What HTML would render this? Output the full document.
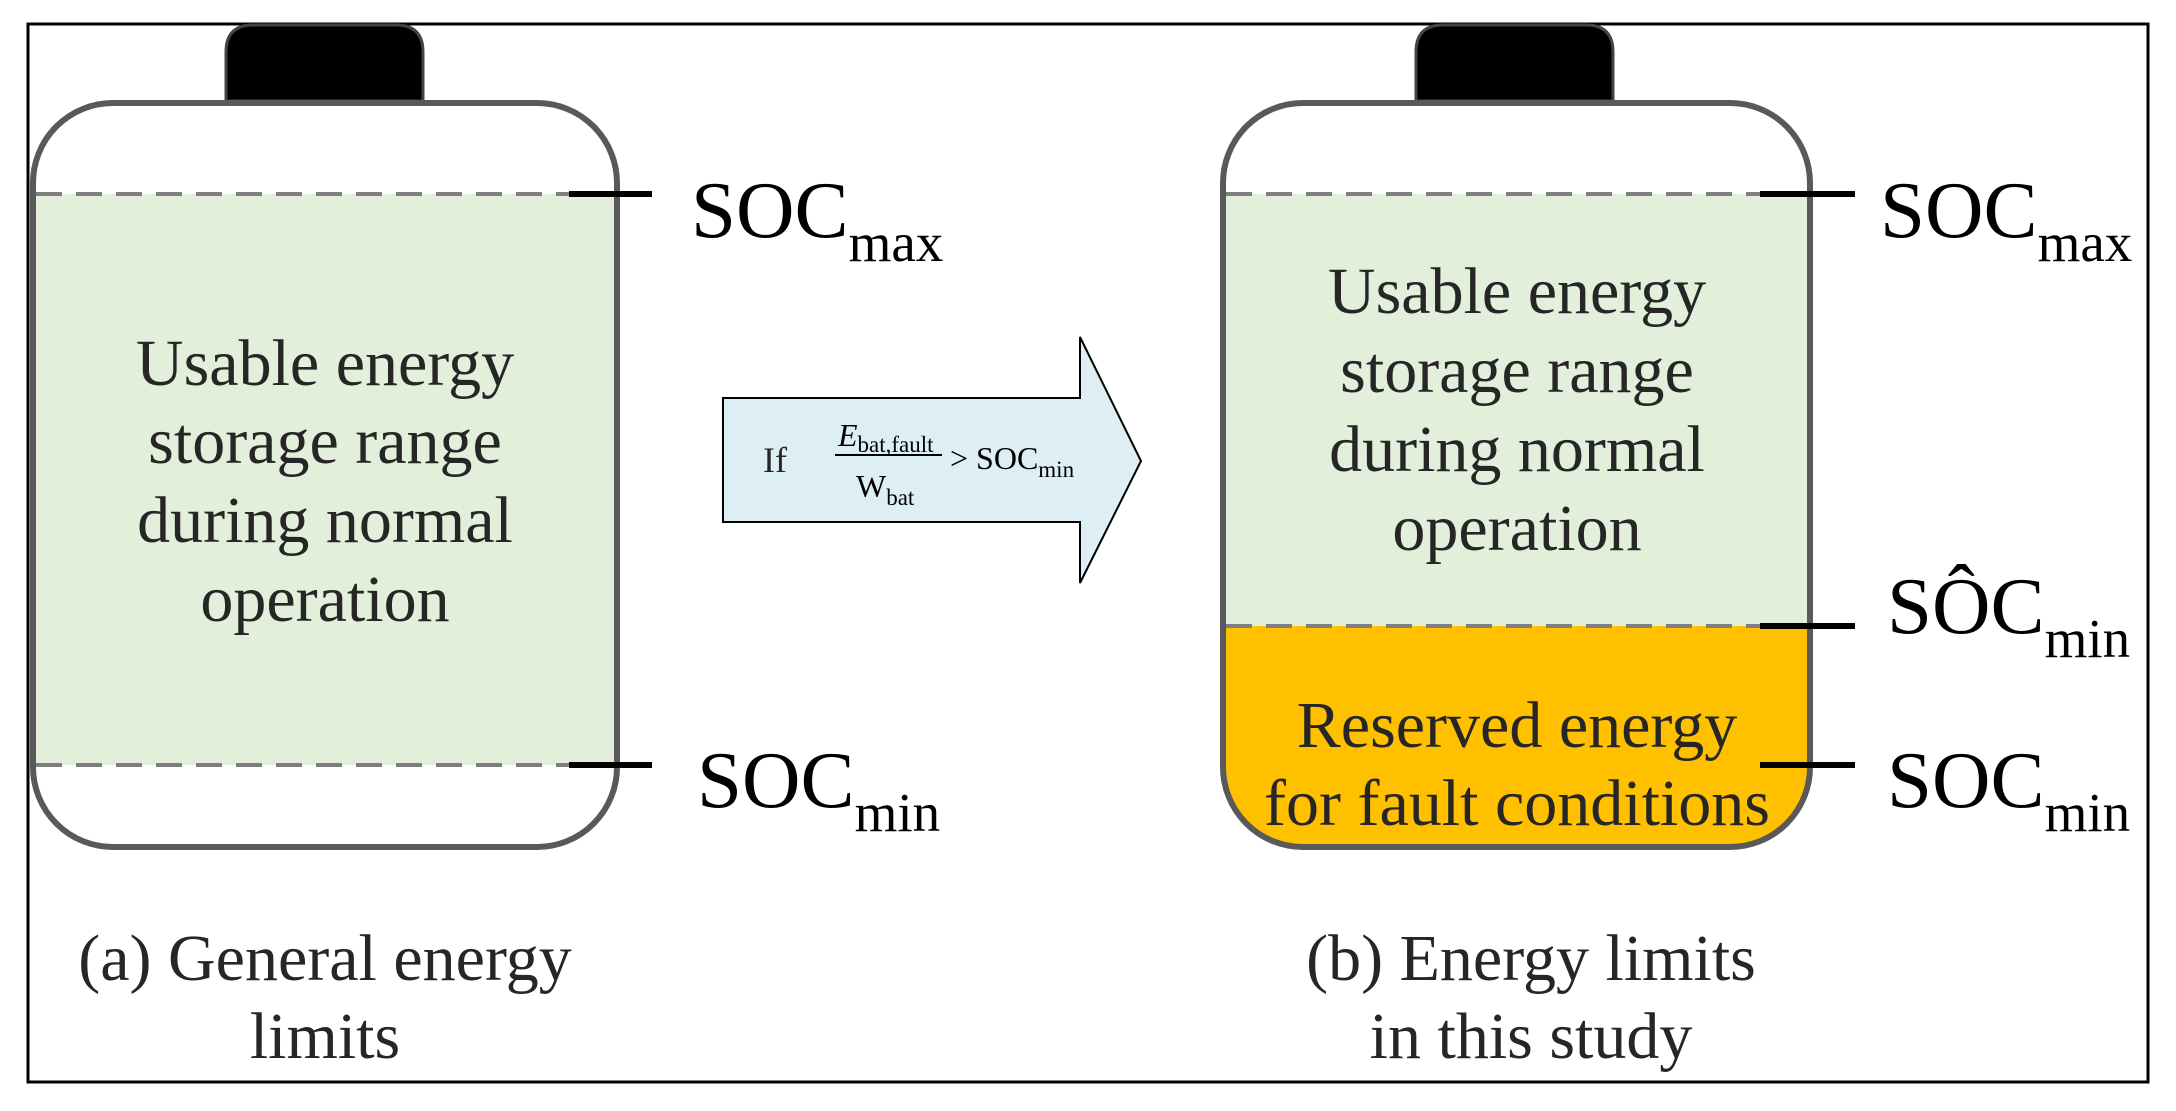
<!DOCTYPE html>
<html><head><meta charset="utf-8"><style>
html,body{margin:0;padding:0;background:#fff;}
svg{display:block;}
text{font-family:"Liberation Serif",serif;}
</style></head><body>
<svg width="2176" height="1111" viewBox="0 0 2176 1111" xmlns="http://www.w3.org/2000/svg">
<rect x="28" y="24" width="2120" height="1058" fill="#fff" stroke="#000" stroke-width="3"/>

<!-- Left battery -->
<path d="M226,101 V52 Q226,25 253,25 H396 Q423,25 423,52 V101 Z" fill="#000" stroke="#444" stroke-width="3"/>
<rect x="33" y="103" width="584" height="744" rx="80" ry="80" fill="#fff"/>
<rect x="33" y="194" width="584" height="571" fill="#e2efda"/>
<rect x="33" y="103" width="584" height="744" rx="80" ry="80" fill="none" stroke="#595959" stroke-width="6"/>
<line x1="36" y1="194" x2="614" y2="194" stroke="#7f7f7f" stroke-width="4" stroke-dasharray="26,14"/>
<line x1="36" y1="765" x2="614" y2="765" stroke="#7f7f7f" stroke-width="4" stroke-dasharray="26,14"/>
<line x1="569" y1="194" x2="652" y2="194" stroke="#000" stroke-width="6"/>
<line x1="569" y1="765" x2="652" y2="765" stroke="#000" stroke-width="6"/>
<text x="691" y="237" font-size="81">SOC<tspan font-size="55" dy="24">max</tspan></text>
<text x="697" y="807" font-size="81">SOC<tspan font-size="55" dy="24">min</tspan></text>
<g font-size="66" fill="#262626" text-anchor="middle">
<text x="325" y="385">Usable energy</text>
<text x="325" y="463">storage range</text>
<text x="325" y="542">during normal</text>
<text x="325" y="621">operation</text>
<text x="325" y="980">(a) General energy</text>
<text x="325" y="1058">limits</text>
</g>

<!-- Arrow -->
<path d="M723,398 H1080 V337 L1141,461 L1080,583 V522 H723 Z" fill="#ddeef5" stroke="#000" stroke-width="2"/>
<text x="763" y="472" font-size="36" fill="#262626">If</text>
<text x="838" y="446" font-size="32" font-style="italic">E<tspan font-style="normal" font-size="23" dy="6">bat,fault</tspan></text>
<line x1="835" y1="455" x2="942" y2="455" stroke="#000" stroke-width="2"/>
<text x="856" y="497" font-size="32">W<tspan font-size="23" dy="8">bat</tspan></text>
<text x="950" y="469" font-size="32">&gt; SOC<tspan font-size="23" dy="8">min</tspan></text>

<!-- Right battery -->
<path d="M1416,101 V52 Q1416,25 1443,25 H1586 Q1613,25 1613,52 V101 Z" fill="#000" stroke="#444" stroke-width="3"/>
<clipPath id="cb"><rect x="1223" y="103" width="587" height="744" rx="80" ry="80"/></clipPath>
<rect x="1223" y="103" width="587" height="744" rx="80" ry="80" fill="#fff"/>
<g clip-path="url(#cb)">
<rect x="1223" y="194" width="587" height="432" fill="#e2efda"/>
<rect x="1223" y="626" width="587" height="230" fill="#ffc000"/>
</g>
<rect x="1223" y="103" width="587" height="744" rx="80" ry="80" fill="none" stroke="#595959" stroke-width="6"/>
<line x1="1226" y1="194" x2="1807" y2="194" stroke="#7f7f7f" stroke-width="4" stroke-dasharray="26,14"/>
<line x1="1226" y1="626" x2="1807" y2="626" stroke="#7f7f7f" stroke-width="4" stroke-dasharray="26,14"/>
<line x1="1760" y1="194" x2="1855" y2="194" stroke="#000" stroke-width="6"/>
<line x1="1760" y1="626" x2="1855" y2="626" stroke="#000" stroke-width="6"/>
<line x1="1760" y1="765" x2="1855" y2="765" stroke="#000" stroke-width="6"/>
<text x="1880" y="237" font-size="81">SOC<tspan font-size="55" dy="24">max</tspan></text>
<text x="1887" y="633" font-size="81">SÔC<tspan font-size="55" dy="24">min</tspan></text>
<text x="1887" y="807" font-size="81">SOC<tspan font-size="55" dy="24">min</tspan></text>
<g font-size="66" fill="#262626" text-anchor="middle">
<text x="1517" y="313">Usable energy</text>
<text x="1517" y="392">storage range</text>
<text x="1517" y="471">during normal</text>
<text x="1517" y="550">operation</text>
<text x="1517" y="747">Reserved energy</text>
<text x="1517" y="825">for fault conditions</text>
<text x="1531" y="980">(b) Energy limits</text>
<text x="1531" y="1058">in this study</text>
</g>
</svg>
</body></html>
